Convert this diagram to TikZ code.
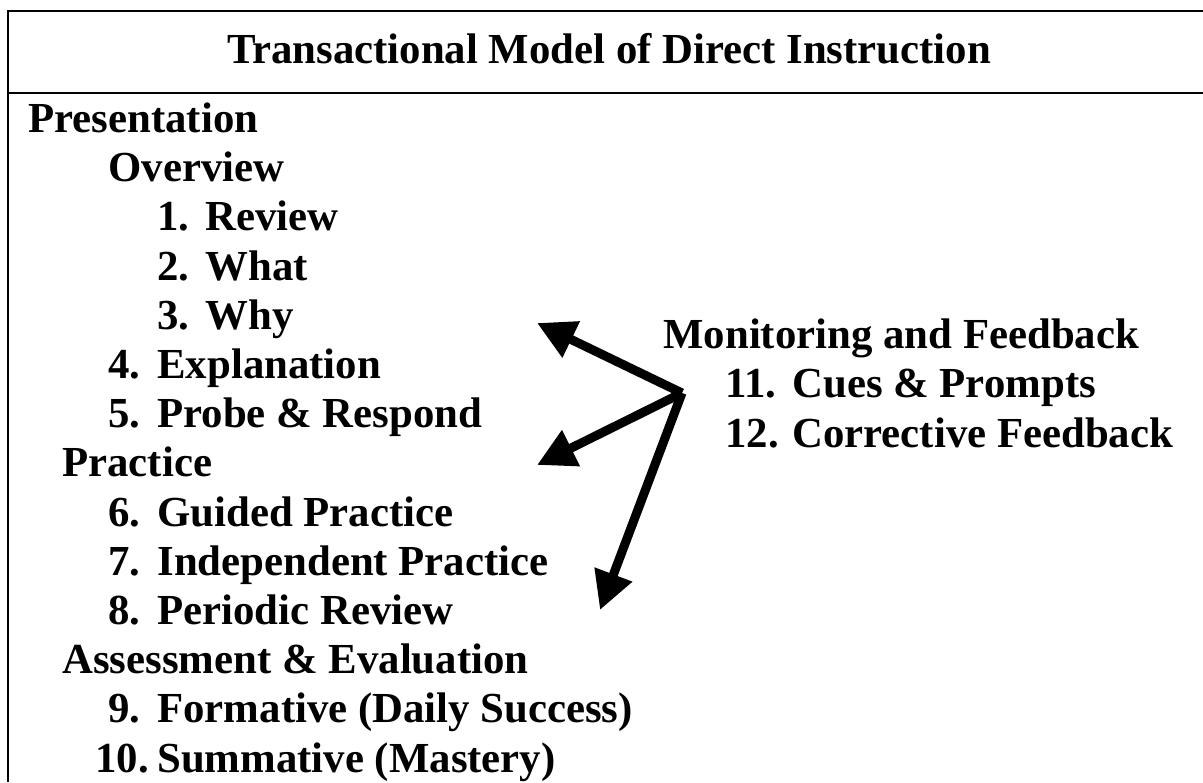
\documentclass[tikz,border=0pt]{standalone}
\usepackage{fontspec}
\setmainfont{Liberation Serif}
\usetikzlibrary{arrows.meta}

\begin{document}
\begin{tikzpicture}[x=0.5pt,y=-0.5pt,>={Triangle[length=19pt,width=19pt]},
  txt/.style={anchor=base west,inner sep=0pt,font=\fontsize{21.4pt}{25pt}\selectfont\bfseries}]
\useasboundingbox (0,0) rectangle (1203,782);
% frame and title rule
\draw[line width=1.3pt] (1203,11) -- (8,11) -- (8,782);
\draw[line width=1.3pt] (8,93) -- (1203,93);
\node[txt,anchor=base] (title) at (609,63) {Transactional Model of Direct Instruction};
% left column
\node[txt] (pres) at (28,132) {Presentation};
\node[txt] (over) at (108,181) {Overview};
\node[txt] (n1) at (157,230) {1.};
\node[txt] (review) at (205,230) {Review};
\node[txt] (n2) at (157,280) {2.};
\node[txt] (what) at (205,280) {What};
\node[txt] (n3) at (157,329) {3.};
\node[txt] (why) at (205,329) {Why};
\node[txt] (n4) at (108,378) {4.};
\node[txt] (expl) at (157,378) {Explanation};
\node[txt] (n5) at (108,427) {5.};
\node[txt] (probe) at (157,427) {Probe \& Respond};
\node[txt] (prac) at (62,476) {Practice};
\node[txt] (n6) at (108,526) {6.};
\node[txt] (guided) at (157,526) {Guided Practice};
\node[txt] (n7) at (108,575) {7.};
\node[txt] (indep) at (157,575) {Independent Practice};
\node[txt] (n8) at (108,624) {8.};
\node[txt] (period) at (157,624) {Periodic Review};
\node[txt] (assess) at (62,673) {Assessment \& Evaluation};
\node[txt] (n9) at (108,722) {9.};
\node[txt] (form) at (157,722) {Formative (Daily Success)};
\node[txt] (n10) at (95,772) {10.};
\node[txt] (summ) at (157,772) {Summative (Mastery)};
% right column
\node[txt] (monit) at (663,348) {Monitoring and Feedback};
\node[txt] (n11) at (725,397) {11.};
\node[txt] (cues) at (792,397) {Cues \& Prompts};
\node[txt] (n12) at (725,447) {12.};
\node[txt] (corr) at (792,447) {Corrective Feedback};
% arrows
\coordinate (hub) at (682,393);
\coordinate (tipA) at (537,323);
\coordinate (tipB) at (537,465);
\coordinate (tipC) at (600,610);
\draw[->,line width=4.5pt] (hub) -- (tipA);
\draw[->,line width=4.5pt] (hub) -- (tipB);
\draw[->,line width=4.5pt] (hub) -- (tipC);
\end{tikzpicture}
\end{document}
